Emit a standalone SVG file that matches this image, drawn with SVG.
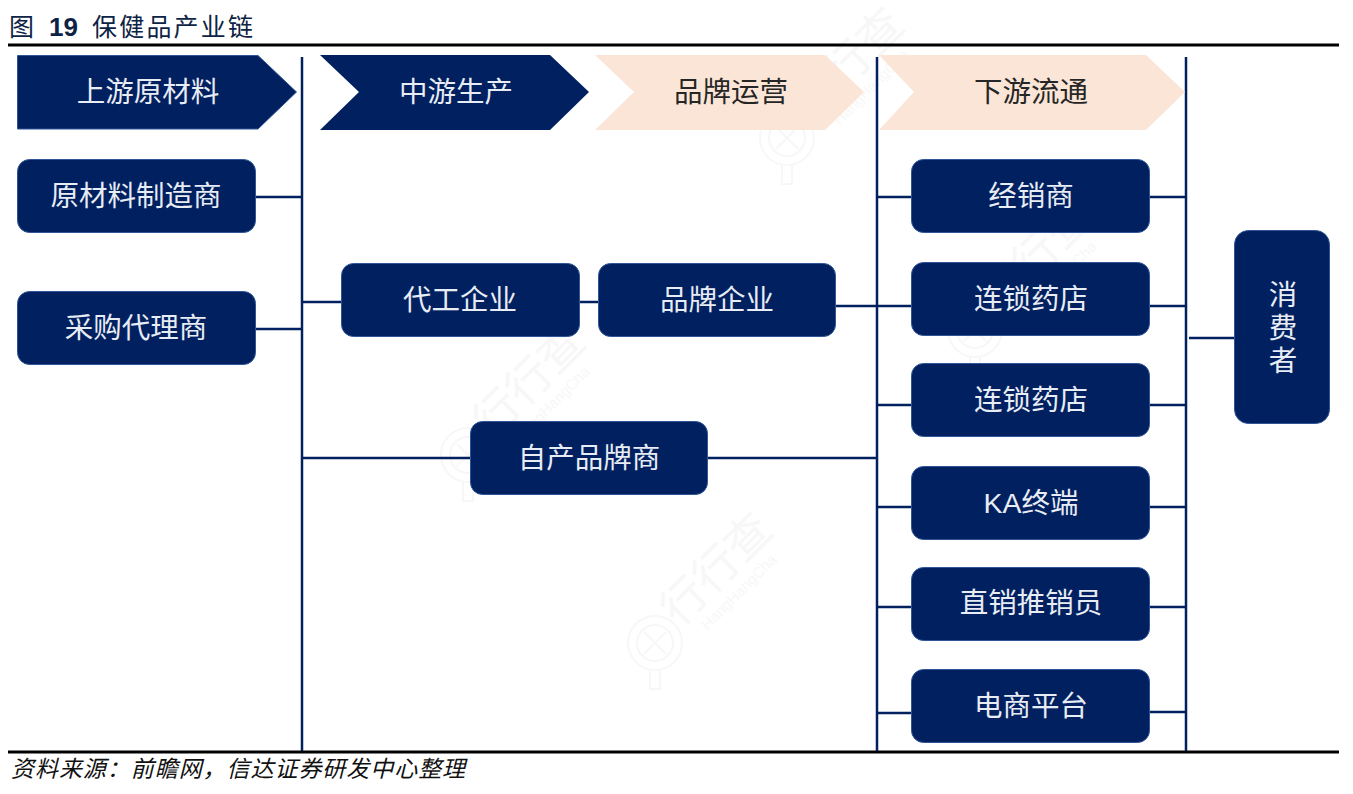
<svg xmlns="http://www.w3.org/2000/svg" width="1353" height="794" viewBox="0 0 1353 794">
<style>
text{font-family:"Liberation Sans","Noto Sans CJK SC",sans-serif}
.n{fill:#002060;stroke:#2f5597;stroke-width:1}
.p{fill:#fbe5d6}
.t{fill:#e8ecf4;font-size:28.5px;text-anchor:middle;dominant-baseline:central}
.d{fill:#262626;font-size:28.5px;text-anchor:middle;dominant-baseline:central}
.c line{stroke:#002060;stroke-width:2.5}
.r{stroke:#000;stroke-width:3}
.w{fill:none;stroke:#f7f7f7;stroke-width:2}
.wt{fill:#f7f7f7;text-anchor:middle}
</style>
<defs>
<g id="wm">
<circle class="w" cx="0" cy="0" r="27"/><circle class="w" cx="0" cy="0" r="18"/>
<path class="w" d="M-11-11L11 11M11-11L-11 11M-5 27V46H5V27"/>
<g transform="translate(72,-63) rotate(-45)"><text class="wt" font-size="45" y="0">行行查</text><text class="wt" font-size="15" y="22">HangHangCha</text></g>
</g>
</defs>
<rect width="1353" height="794" fill="#fff"/>
<g id="watermarks">
<use href="#wm" x="787" y="138"/><use href="#wm" x="468" y="455"/><use href="#wm" x="975" y="330"/><use href="#wm" x="655" y="643"/>
</g>
<g id="frame">
<text x="9" y="36" font-size="25" fill="#0d2345">图</text>
<text x="49" y="36" font-size="26" font-weight="bold" fill="#0d2345">19</text>
<text x="92" y="36" font-size="25" fill="#0d2345" letter-spacing="2.2">保健品产业链</text>
<line class="r" x1="8" y1="45" x2="1339" y2="45"/>
<line class="r" x1="8" y1="752" x2="1339" y2="752"/>
<text x="11" y="777" font-size="23" font-style="italic" fill="#111" letter-spacing="0.95">资料来源：前瞻网，信达证券研发中心整理</text>
</g>
<g id="connectors" class="c">
<line x1="302" y1="57" x2="302" y2="751"/><line x1="877" y1="57" x2="877" y2="751"/><line x1="1186" y1="57" x2="1186" y2="751"/>
<line x1="255" y1="197" x2="302" y2="197"/><line x1="255" y1="329" x2="302" y2="329"/>
<line x1="302" y1="302" x2="342" y2="302"/><line x1="579" y1="302" x2="599" y2="302"/><line x1="835" y1="306" x2="912" y2="306"/>
<line x1="302" y1="458" x2="471" y2="458"/><line x1="707" y1="458" x2="877" y2="458"/>
<line x1="877" y1="197" x2="912" y2="197"/><line x1="877" y1="405" x2="912" y2="405"/><line x1="877" y1="507" x2="912" y2="507"/><line x1="877" y1="607" x2="912" y2="607"/><line x1="877" y1="713" x2="912" y2="713"/>
<line x1="1149" y1="197" x2="1186" y2="197"/><line x1="1149" y1="306" x2="1186" y2="306"/><line x1="1149" y1="405" x2="1186" y2="405"/><line x1="1149" y1="507" x2="1186" y2="507"/><line x1="1149" y1="607" x2="1186" y2="607"/><line x1="1149" y1="712" x2="1186" y2="712"/>
<line x1="1189" y1="338" x2="1235" y2="338"/>
</g>
<g id="stage-upstream"><polygon class="n" points="17.500,55.500 258,55.500 296.500,92 258,129 17.500,129"/><text class="t" x="148" y="92">上游原材料</text></g>
<g id="stage-midstream"><polygon points="320,55 550,55 589,92 550,130 320,130 359,92" fill="#002060"/><text class="t" x="456" y="92">中游生产</text></g>
<g id="stage-brand"><polygon class="p" points="595,55 825,55 864,92 825,130 595,130 634,92"/><text class="d" x="731" y="92">品牌运营</text></g>
<g id="stage-downstream"><polygon class="p" points="879,55 1146,55 1185,92 1146,130 879,130 914,92"/><text class="d" x="1031" y="92">下游流通</text></g>
<g id="node-raw"><rect class="n" x="17.500" y="159.500" width="238" height="73" rx="12"/><text class="t" x="136" y="196">原材料制造商</text></g>
<g id="node-purchase"><rect class="n" x="17.500" y="291.500" width="238" height="73" rx="12"/><text class="t" x="136" y="328">采购代理商</text></g>
<g id="node-oem"><rect class="n" x="341.500" y="263.500" width="238" height="73" rx="12"/><text class="t" x="460" y="300">代工企业</text></g>
<g id="node-brand"><rect class="n" x="598.500" y="263.500" width="237" height="73" rx="12"/><text class="t" x="717" y="300">品牌企业</text></g>
<g id="node-own"><rect class="n" x="470.500" y="421.500" width="237" height="73" rx="12"/><text class="t" x="589" y="458">自产品牌商</text></g>
<g id="node-dealer"><rect class="n" x="911.500" y="159.500" width="238" height="73" rx="12"/><text class="t" x="1031" y="196">经销商</text></g>
<g id="node-pharmacy1"><rect class="n" x="911.500" y="262.500" width="238" height="73" rx="12"/><text class="t" x="1031" y="299">连锁药店</text></g>
<g id="node-pharmacy2"><rect class="n" x="911.500" y="363.500" width="238" height="73" rx="12"/><text class="t" x="1031" y="400">连锁药店</text></g>
<g id="node-ka"><rect class="n" x="911.500" y="466.500" width="238" height="73" rx="12"/><text class="t" x="1031" y="503">KA终端</text></g>
<g id="node-direct"><rect class="n" x="911.500" y="567.500" width="238" height="73" rx="12"/><text class="t" x="1031" y="603">直销推销员</text></g>
<g id="node-ecom"><rect class="n" x="911.500" y="669.500" width="238" height="73" rx="12"/><text class="t" x="1031" y="706">电商平台</text></g>
<g id="node-consumer"><rect class="n" x="1234.500" y="230.500" width="95" height="193" rx="14"/><text class="t" x="1283" y="295">消</text><text class="t" x="1283" y="328">费</text><text class="t" x="1283" y="361">者</text></g>
</svg>
